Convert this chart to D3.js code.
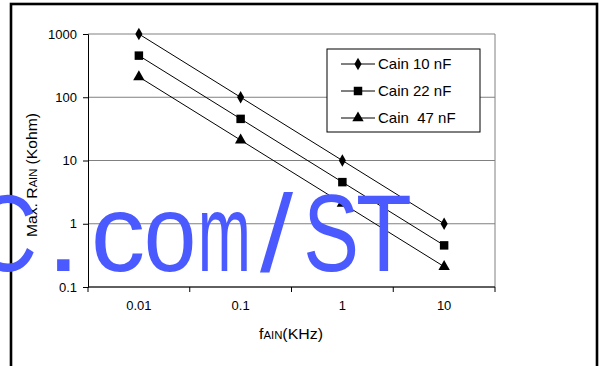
<!DOCTYPE html>
<html>
<head>
<meta charset="utf-8">
<script src="https://cdn.jsdelivr.net/npm/d3@7"></script>
<style>
  body { margin: 0; background: #fff; }
  svg { display: block; font-family: "Liberation Sans", Arial, sans-serif; }
</style>
</head>
<body>
<div id="chart"></div>
<script>
// data
let freqs = ["0.01", "0.1", "1", "10"];
let cain10 = [1000, 100, 10, 1];
let cain22 = [455, 45.5, 4.55, 0.455];
let cain47 = [210, 21, 2.1, 0.21];
let seriesNames = ["Cain 10 nF", "Cain 22 nF", "Cain  47 nF"];
let yTicks = [0.1, 1, 10, 100, 1000];

let width = 604;
let height = 366;
let margin = { top: 34, right: 109, bottom: 79, left: 88 };
let chartWidth = width - margin.left - margin.right;
let chartHeight = height - margin.top - margin.bottom;

let svg = d3.select("#chart").append("svg")
    .attr("width", width)
    .attr("height", height);

// outer frame
svg.append("rect")
    .attr("x", 11).attr("y", 4)
    .attr("width", 586).attr("height", 400)
    .attr("fill", "none")
    .attr("stroke", "#000")
    .attr("stroke-width", 2.6);

let chartGroup = svg.append("g")
    .attr("transform", `translate(${margin.left}, ${margin.top})`);

let xScale = d3.scaleBand()
    .domain(freqs)
    .range([0, chartWidth]);

let yScale = d3.scaleLog()
    .domain([0.1, 1000])
    .range([chartHeight, 0]);

// grid lines
chartGroup.selectAll(".grid")
    .data(yTicks)
    .enter()
    .append("line")
    .attr("x1", 0).attr("x2", chartWidth)
    .attr("y1", d => yScale(d)).attr("y2", d => yScale(d))
    .attr("stroke", "#808080")
    .attr("stroke-width", 1);

// right border of plot area
chartGroup.append("line")
    .attr("x1", chartWidth).attr("x2", chartWidth)
    .attr("y1", 0).attr("y2", chartHeight)
    .attr("stroke", "#808080");

// y axis
let yAxis = d3.axisLeft(yScale)
    .tickValues(yTicks)
    .tickFormat(d => String(d))
    .tickSize(5)
    .tickPadding(6);
let yG = chartGroup.append("g").call(yAxis);
yG.select(".domain").attr("stroke", "#000");
yG.selectAll("text").attr("font-size", 13).attr("font-family", "Liberation Sans, Arial").attr("fill", "#000");

// x axis, ticks between categories
let xAxisG = chartGroup.append("g").attr("transform", `translate(0, ${chartHeight})`);
xAxisG.append("line")
    .attr("x1", 0).attr("x2", chartWidth)
    .attr("stroke", "#000");
let xTickPos = freqs.map(d => xScale(d)).concat([chartWidth]);
xAxisG.selectAll(".tk")
    .data(xTickPos)
    .enter()
    .append("line")
    .attr("x1", d => d).attr("x2", d => d)
    .attr("y1", 0).attr("y2", 5)
    .attr("stroke", "#000");
xAxisG.selectAll(".lbl")
    .data(freqs)
    .enter()
    .append("text")
    .attr("x", d => xScale(d) + xScale.bandwidth() / 2)
    .attr("y", 23)
    .attr("text-anchor", "middle")
    .attr("font-size", 13)
    .text(d => d);

// series
let series = [cain10, cain22, cain47];
let line = d3.line()
    .x((d, i) => xScale(freqs[i]) + xScale.bandwidth() / 2)
    .y(d => yScale(d));

let symbols = [
    d3.symbol().type(d3.symbolDiamond).size(44),
    d3.symbol().type(d3.symbolSquare).size(72),
    d3.symbol().type(d3.symbolTriangle).size(56)
];

series.forEach((vals, k) => {
    chartGroup.append("path")
        .attr("d", line(vals))
        .attr("fill", "none")
        .attr("stroke", "#000")
        .attr("stroke-width", 1);
    chartGroup.selectAll(".pt" + k)
        .data(vals)
        .enter()
        .append("path")
        .attr("d", symbols[k])
        .attr("transform", (d, i) => `translate(${xScale(freqs[i]) + xScale.bandwidth() / 2}, ${yScale(d)})`)
        .attr("fill", "#000");
});

// legend
let legend = svg.append("g").attr("transform", "translate(327, 49)");
legend.append("rect")
    .attr("width", 153).attr("height", 83)
    .attr("fill", "#fff")
    .attr("stroke", "#000")
    .attr("stroke-width", 1);
seriesNames.forEach((name, k) => {
    let y = 15 + k * 27;
    legend.append("line")
        .attr("x1", 14).attr("x2", 48)
        .attr("y1", y).attr("y2", y)
        .attr("stroke", "#000");
    legend.append("path")
        .attr("d", symbols[k])
        .attr("transform", `translate(31, ${y})`)
        .attr("fill", "#000");
    legend.append("text")
        .attr("x", 51).attr("y", y + 5)
        .attr("font-size", 15)
        .style("white-space", "pre")
        .text(name);
});

// axis titles
let yTitle = svg.append("text")
    .attr("transform", "translate(37, 175) rotate(-90)")
    .attr("text-anchor", "middle")
    .attr("font-size", 14)
    .attr("textLength", 124)
    .attr("lengthAdjust", "spacingAndGlyphs");
yTitle.append("tspan").text("Max. R");
yTitle.append("tspan").attr("font-size", 10).text("AIN");
yTitle.append("tspan").style("white-space", "pre").text(" (Kohm)");

let xTitle = svg.append("text")
    .attr("x", 291).attr("y", 339)
    .attr("text-anchor", "middle")
    .attr("font-size", 14)
    .attr("textLength", 64)
    .attr("lengthAdjust", "spacingAndGlyphs");
xTitle.append("tspan").text("f");
xTitle.append("tspan").attr("font-size", 10).text("AIN");
xTitle.append("tspan").text("(KHz)");

// watermark, glyph by glyph: [char, ink left, x-scale, left bearing (em)]
let wmGlyphs = [
    ["C", -22, 0.80, 0.05],
    [".", 57, 1.18, 0.09],
    ["c", 95, 0.99, 0.039],
    ["o", 147, 0.86, 0.035],
    ["m", 202, 0.58, 0.066],
    ["/", 260, 1.08, 0.0],
    ["S", 307, 0.76, 0.046],
    ["T", 358, 0.83, 0.022]
];
let wmSize = 110;
let wm = svg.append("g").attr("fill", "#4a5aff").attr("font-size", wmSize);
wmGlyphs.forEach(g => {
    wm.append("text")
        .attr("transform", `translate(${g[1] - g[3] * wmSize * g[2]}, 271) scale(${g[2]}, 1)`)
        .text(g[0]);
});
</script>
</body>
</html>
